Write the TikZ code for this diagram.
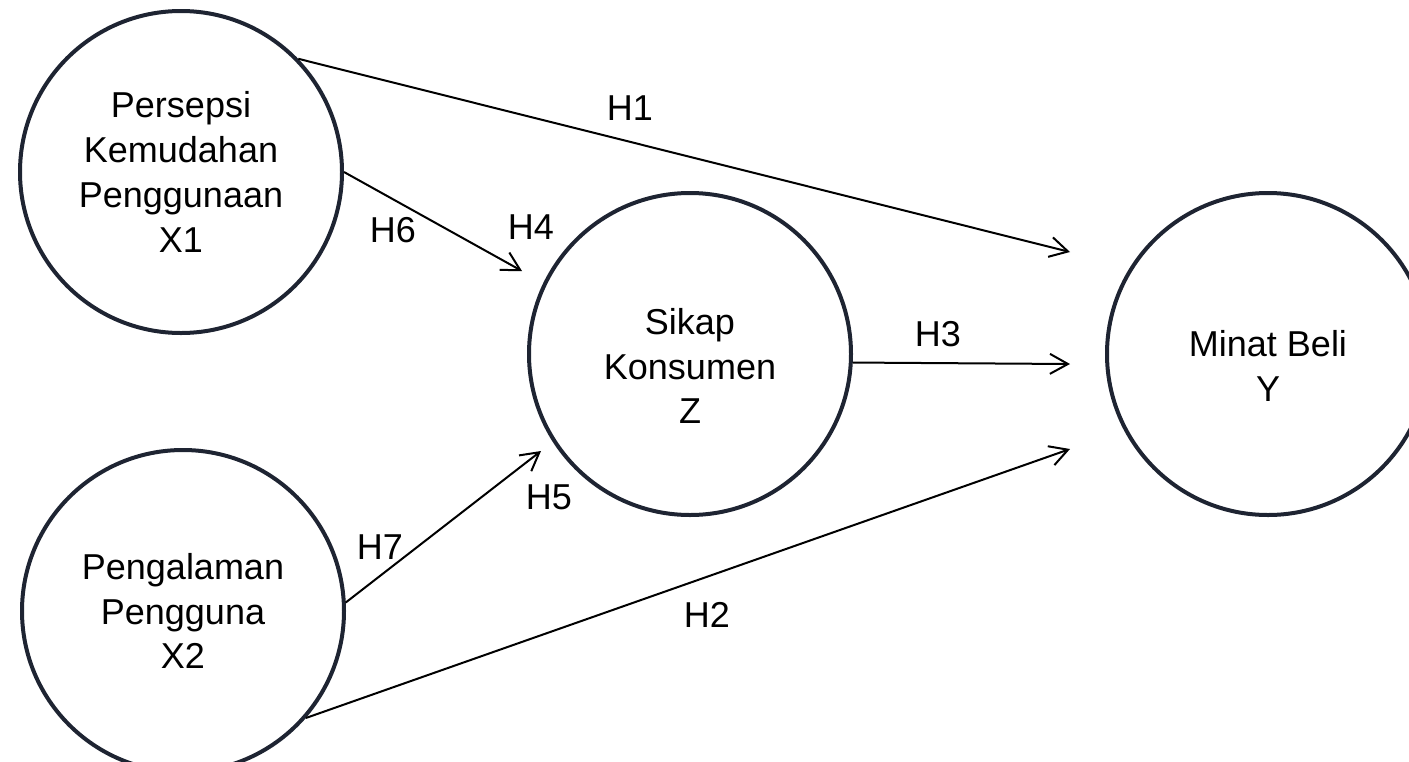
\documentclass[tikz,border=0pt]{standalone}
\usepackage{fontspec}
\setmainfont{Liberation Sans}
\usetikzlibrary{arrows.meta, positioning}

\definecolor{ringnavy}{HTML}{1E2432}

\begin{document}
\begin{tikzpicture}[
            x=0.5pt, y=-0.5pt,
            ->,
            >={Straight Barb[length=9pt,width=10pt]},
            line width=1pt,
            every node/.style={font=\fontsize{18pt}{22.4pt}\selectfont},
            var/.style={circle, draw=ringnavy, line width=2pt,
                        minimum size=161pt, inner sep=0pt, align=center},
            lowtext/.style={label={[align=center,yshift=-6pt]center:#1}},
            hyp/.style={inner sep=0pt}]
            \useasboundingbox (0,0) rectangle (1409,761);

            \node [var] (x1) at (181,172) {Persepsi\\Kemudahan\\Penggunaan\\X1};
            \node [var] (x2) at (183,611) {Pengalaman\\Pengguna\\X2};
            % text of these two sits a little below the centre
            \node [var, lowtext={Sikap\\Konsumen\\Z}] (z) at (690,354) {};
            \node [var, lowtext={Minat Beli\\Y}] (y) at (1268,354) {};

            % the arrows stop short of the circles they point to
            \coordinate (t1) at (1070,252);
            \coordinate (t2) at (1070,449);
            \coordinate (t3) at (1070,364);
            \coordinate (t6) at (522,271);
            \coordinate (t7) at (541,451);

            \path (x1.44) edge (t1)
                  (x1.east) edge (t6)
                  (x2.-41) edge (t2)
                  (x2.3) edge (t7)
                  (z.-3.5) edge (t3);

            \node [hyp] (h1) at (630,108) {H1};
            \node [hyp] (h2) at (707,615) {H2};
            \node [hyp] (h3) at (938,334) {H3};
            \node [hyp] (h4) at (531,227) {H4};
            \node [hyp] (h5) at (549,497) {H5};
            \node [hyp] (h6) at (393,230) {H6};
            \node [hyp] (h7) at (380,547) {H7};
\end{tikzpicture}
\end{document}
